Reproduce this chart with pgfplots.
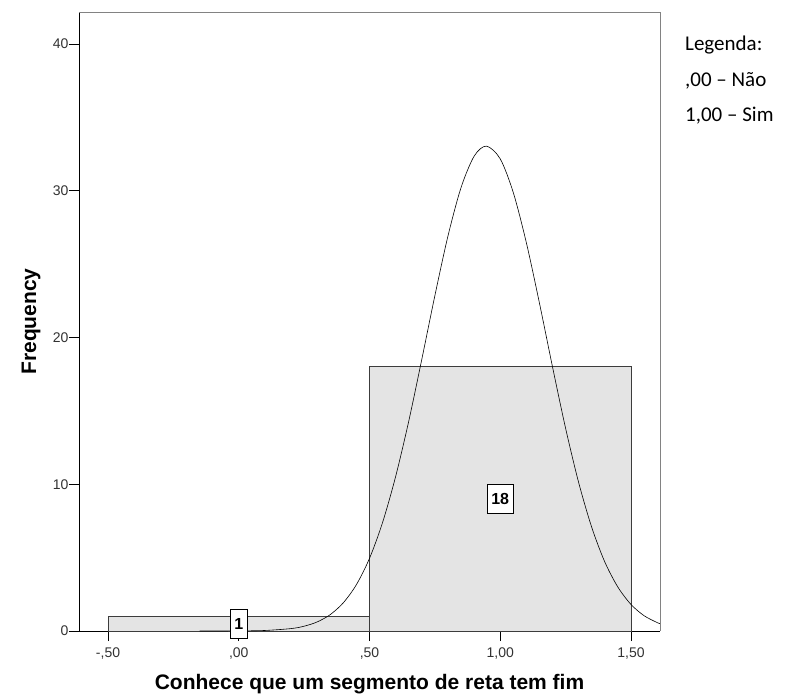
\documentclass[border=0pt]{standalone}
\usepackage{fontspec}
\setmainfont{Liberation Sans}
\newfontfamily\legfont{Carlito}
\usepackage{pgfplots}
\pgfplotsset{compat=1.18}
\definecolor{barfill}{RGB}{228,228,228}
\definecolor{bardraw}{RGB}{60,60,60}
\definecolor{framegray}{RGB}{130,130,130}
\definecolor{ticktxt}{RGB}{50,50,50}
\begin{document}
\begin{tikzpicture}
\path[use as bounding box] (-79bp,-67bp) rectangle (716bp,631bp);
\begin{axis}[
  at={(0,0)}, anchor=south west,
  scale only axis,
  width=581bp, height=619bp,
  xmin=-0.611, xmax=1.611,
  ymin=0, ymax=42.18,
  axis x line=bottom, axis y line=left,
  axis line style={-, black, line width=0.9pt},
  clip=false,
  tick align=outside,
  major tick length=10bp,
  tick style={black, line width=0.8pt},
  xtick={-0.5,0,0.5,1,1.5},
  xticklabels={{-,50},{,00},{,50},{1,00},{1,50}},
  ytick={0,10,20,30,40},
  /pgf/number format/assume math mode=true,
  every tick label/.append style={font=\fontsize{14bp}{16bp}\selectfont, text=ticktxt},
  xticklabel style={yshift=-3bp},
  yticklabel style={xshift=3bp},
  xlabel={\fontsize{21bp}{24bp}\selectfont\bfseries Conhece que um segmento de reta tem fim},
  ylabel={\fontsize{21bp}{24bp}\selectfont\bfseries Frequency},
  xlabel style={at={(axis description cs:0.5,-0.086)}, anchor=center},
  ylabel style={at={(axis description cs:-0.0826,0.5)}, anchor=center},
]
\addplot[ybar interval, fill=barfill, draw=bardraw, line width=0.7pt]
  coordinates {(-0.5,1) (0.5,18) (1.5,0)};
\addplot[black, line width=0.6pt, smooth] coordinates {
  (-0.15,0.0004) (0.0,0.0066) (0.1,0.036) (0.2,0.165) (0.25,0.327)
  (0.3,0.619) (0.35,1.118) (0.4,1.926) (0.45,3.161) (0.5,4.950)
  (0.55,7.395) (0.6,10.53) (0.65,14.29) (0.7,18.51) (0.75,22.85)
  (0.8,26.91) (0.85,30.21) (0.9,32.35) (0.947,33.04) (1.0,32.17)
  (1.05,29.87) (1.1,26.45) (1.15,22.34) (1.2,17.99) (1.25,13.81)
  (1.3,10.11) (1.35,7.06) (1.4,4.70) (1.45,2.99) (1.5,1.81)
  (1.55,1.044) (1.6,0.575) (1.611,0.501)};
\draw[framegray, line width=0.9pt] (rel axis cs:0,1) -- (rel axis cs:1,1) -- (rel axis cs:1,0);
\node[draw=black, fill=white, line width=0.6pt, inner xsep=4bp, inner ysep=9bp,
  font=\fontsize{16bp}{18bp}\selectfont\bfseries] at (axis cs:0,0.5) {1};
\node[draw=black, fill=white, line width=0.6pt, inner xsep=4bp, inner ysep=9bp,
  font=\fontsize{16bp}{18bp}\selectfont\bfseries] at (axis cs:1,9) {18};
\node[anchor=west, inner sep=0pt, font=\legfont\fontsize{21bp}{24bp}\selectfont] at (rel axis cs:1.043,0.946) {Legenda:};
\node[anchor=west, inner sep=0pt, font=\legfont\fontsize{21bp}{24bp}\selectfont] at (rel axis cs:1.043,0.889) {,00 – Não};
\node[anchor=west, inner sep=0pt, font=\legfont\fontsize{21bp}{24bp}\selectfont] at (rel axis cs:1.043,0.832) {1,00 – Sim};
\end{axis}
\end{tikzpicture}
\end{document}
